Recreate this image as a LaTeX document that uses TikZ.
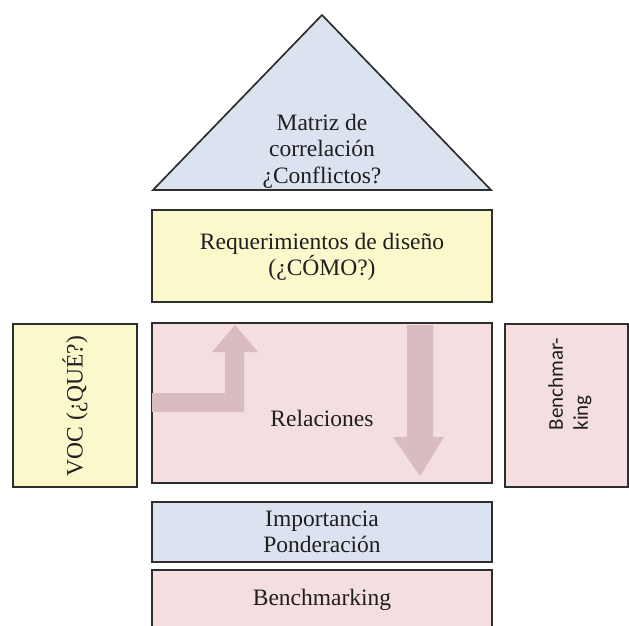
\documentclass[tikz,border=0pt]{standalone}
\usepackage{fontspec}
\setmainfont{Liberation Serif}
\newfontfamily\labelsans{Carlito}
\definecolor{hqblue}{HTML}{DCE3F0}
\definecolor{hqyellow}{HTML}{FBF8CC}
\definecolor{hqpink}{HTML}{F4DEDF}
\definecolor{hqarrow}{HTML}{D8BCC0}
\definecolor{hqline}{HTML}{2E2E2E}
\begin{document}
\begin{tikzpicture}[x=1pt,y=-1pt,
  block/.style={draw=hqline,line width=1.7pt},
  lbl/.style={font=\fontsize{23.5}{26.5}\selectfont,align=center,text=black!88},
  flowarrow/.style={fill=hqarrow,draw=none}]
\useasboundingbox (0,0) rectangle (629,626);
\clip (0,0) rectangle (629,626);
% roof: correlation matrix
\draw[block,fill=hqblue] (153,190) -- (322,15) -- (491,190) -- cycle;
\node[lbl] (roof) at (322,151) {Matriz de\\correlación\\¿Conflictos?};
% design requirements
\draw[block,fill=hqyellow] (152,210) rectangle (492,302);
\node[lbl] (how) at (322,257) {Requerimientos de diseño\\(¿CÓMO?)};
% relationship matrix
\draw[block,fill=hqpink] (152,323) rectangle (492,483);
\fill[flowarrow] (152,393) -- (225,393) -- (225,352) -- (212,352) -- (235,325)
  -- (258,352) -- (244,352) -- (244,412) -- (152,412) -- cycle;
\fill[flowarrow] (407,325) -- (433,325) -- (433,437) -- (444,437) -- (420,476)
  -- (393,437) -- (407,437) -- cycle;
\node[lbl] (rel) at (322,418) {Relaciones};
% customer voice
\draw[block,fill=hqyellow] (13,324) rectangle (137,487);
\node[lbl,rotate=90] (what) at (75,406) {VOC (¿QUÉ?)};
% side benchmarking
\draw[block,fill=hqpink] (505,324) rectangle (628,487);
\node[lbl,rotate=90,align=left,font=\labelsans\fontsize{21}{25}\selectfont] (bside) at (570,384) {Benchmar-\\king};
% importance / weighting
\draw[block,fill=hqblue] (152,502) rectangle (492,562);
\node[lbl] (imp) at (322,532) {Importancia\\Ponderación};
% bottom benchmarking
\draw[block,fill=hqpink] (152,570) rectangle (492,650);
\node[lbl] (bbot) at (322,600) {Benchmarking};
\end{tikzpicture}
\end{document}
